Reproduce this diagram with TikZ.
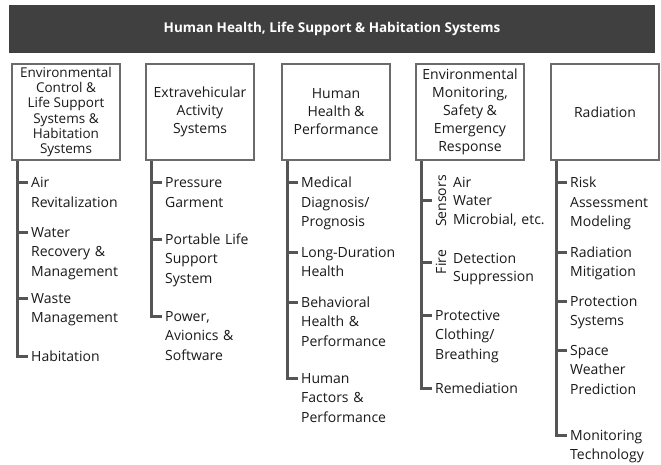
\documentclass[tikz,border=0pt]{standalone}
\usepackage{fontspec}
\setmainfont{Open Sans}
\usetikzlibrary{calc}
\definecolor{barfill}{HTML}{404040}
\definecolor{boxline}{HTML}{6B6B6B}
\definecolor{trunkc}{HTML}{555555}
\definecolor{ink}{HTML}{1A1A1A}
\begin{document}
\begin{tikzpicture}[x=1pt,y=-1pt,
  bar/.style={fill=barfill, draw=none, minimum width=646, minimum height=48,
    inner sep=0, text=white, font=\fontsize{13.5}{16}\selectfont\bfseries},
  cat/.style={draw=boxline, line width=1.2pt, fill=white, minimum width=108,
    minimum height=96, inner sep=2, align=center, text=ink},
  catfont/.style={font=\fontsize{14}{18}\selectfont},
  item/.style={anchor=base west, inner sep=0, text width=110, align=left,
    text=ink, font=\fontsize{14}{19.5}\selectfont},
  subitem/.style={item, font=\fontsize{14}{18}\selectfont},
  grouplabel/.style={rotate=90, inner sep=0, text=ink, font=\fontsize{14}{16}\selectfont},
  trunk/.style={draw=trunkc, line width=3pt},
]
\useasboundingbox (0,0) rectangle (661,465);
\fill[white] (0,0) rectangle (661,465);

% title bar
\node[bar] (title) at (332,29) {Human Health, Life Support \& Habitation Systems};

% category boxes
\node[cat, font=\fontsize{13.5}{15.2}\selectfont] (b1) at (66,112)
  {Environmental\\Control \&\\Life Support\\Systems \&\\Habitation\\Systems};
\node[cat, catfont] (b2) at (200,112) {Extravehicular\\Activity\\Systems};
\node[cat, catfont] (b3) at (336,112) {Human\\Health \&\\Performance};
\node[cat, catfont] (b4) at (470,112)
  {Environmental\\Monitoring,\\Safety \&\\Emergency\\Response};
\node[cat, catfont] (b5) at (605,112) {Radiation};

% trunk start points
\foreach \k in {1,...,5}{\coordinate (t\k) at ([xshift=6]b\k.south west);}

% column 1
\node[item] (i11) at (31,188) {Air\\Revitalization};
\node[item] (i12) at (31,237) {Water\\Recovery \&\\Management};
\node[item] (i13) at (31,303) {Waste\\Management};
\node[item] (i14) at (31,361) {Habitation};

% column 2
\node[item] (i21) at (165,188) {Pressure\\Garment};
\node[item] (i22) at (165,244) {Portable Life\\Support\\System};
\node[item] (i23) at (165,321) {Power,\\Avionics \&\\Software};

% column 3
\node[item] (i31) at (301,188) {Medical\\Diagnosis/\\Prognosis};
\node[item] (i32) at (301,257) {Long-Duration\\Health};
\node[item] (i33) at (301,307) {Behavioral\\Health \&\\Performance};
\node[item] (i34) at (301,383) {Human\\Factors \&\\Performance};

% column 4
\node[grouplabel] (sens) at (441,201) {Sensors};
\node[subitem] (i41) at (453,188) {Air\\Water\\Microbial, etc.};
\node[grouplabel] (fire) at (441,262) {Fire};
\node[subitem] (i42) at (453,263) {Detection\\Suppression};
\node[item] (i43) at (435,320) {Protective\\Clothing/\\Breathing};
\node[item] (i44) at (435,393) {Remediation};

% column 5
\node[item] (i51) at (570,188) {Risk\\Assessment\\Modeling};
\node[item] (i52) at (570,257) {Radiation\\Mitigation};
\node[item] (i53) at (570,306) {Protection\\Systems};
\node[item] (i54) at (570,355) {Space\\Weather\\Prediction};
\node[item] (i55) at (570,440) {Monitoring\\Technology};

% trunks ending in a corner at the last item of each column
\draw[trunk] (t1) |- ($(i14.base west)+(-3,-5)$);
\draw[trunk] (t2) |- ($(i23.base west)+(-3,-5)$);
\draw[trunk] (t3) |- ($(i34.base west)+(-3,-5)$);
\draw[trunk] (t4) |- ($(i44.base west)+(-3,-5)$);
\draw[trunk] (t5) |- ($(i55.base west)+(-3,-5)$);

% side ticks
\foreach \c/\n in {1/i11,1/i12,1/i13,2/i21,2/i22,3/i31,3/i32,3/i33,4/i43,5/i51,5/i52,5/i53,5/i54}{
  \draw[trunk] ($(\n.base west)+(-3,-5)$) -- (t\c |- {$(\n.base west)+(-3,-5)$});
}
\draw[trunk] (t4 |- sens.center) -- ([xshift=-4]sens.north);
\draw[trunk] (t4 |- fire.center) -- ([xshift=-4]fire.north);
\end{tikzpicture}
\end{document}
